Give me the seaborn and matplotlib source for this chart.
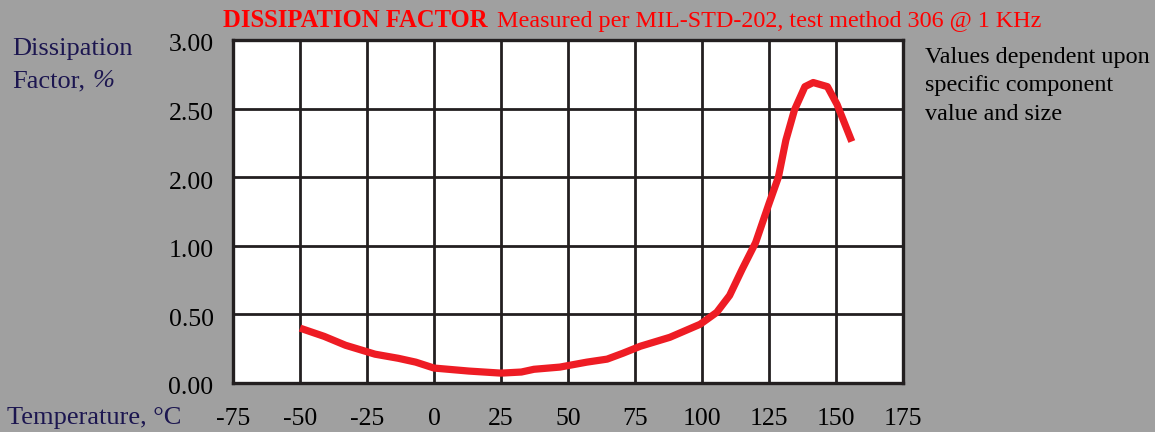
import numpy as np
import pandas as pd
import matplotlib
matplotlib.use("Agg")
import matplotlib.pyplot as plt
import matplotlib.transforms as mtransforms
import seaborn as sns

# ---- data ----
temperature_c = [-50, -41, -33, -22, -13.3, -6.8, 0, 13, 25, 32.6, 37.3, 47, 57,
                 64.6, 70.5, 77, 88, 99.3, 105.5, 110.3, 115, 120, 125, 128.5,
                 131.3, 134.5, 138.4, 141.5, 146.8, 150.4, 155.9]
dissipation_pct = [0.40, 0.34, 0.275, 0.21, 0.18, 0.152, 0.109, 0.087, 0.072, 0.08,
                   0.10, 0.116, 0.152, 0.174, 0.217, 0.268, 0.333, 0.428, 0.515,
                   0.638, 0.83, 1.046, 1.615, 2.0, 2.27, 2.49, 2.66, 2.69, 2.66,
                   2.53, 2.26]
x_ticks = [-75, -50, -25, 0, 25, 50, 75, 100, 125, 150, 175]
y_ticks = [0.0, 0.5, 1.0, 2.0, 2.5, 3.0]
y_tick_labels = ["0.00", "0.50", "1.00", "2.00", "2.50", "3.00"]

df = pd.DataFrame({"temp": temperature_c, "df": dissipation_pct})

W, H = 1155, 432
BG = "#a0a0a0"
NAVY = "#1c1650"
RED = "#ee1c24"
GRID = "#231f20"
FONT = "Liberation Serif"

plt.rcParams["font.family"] = [FONT, "DejaVu Serif"]

fig = plt.figure(figsize=(W / 100, H / 100), dpi=100, facecolor=BG)
ax = fig.add_axes([233 / W, (H - 383) / H, (903 - 233) / W, (383 - 40) / H])
ax.set_facecolor("white")

# evenly spaced rows for the irregular tick values
pos = np.arange(len(y_ticks), dtype=float)
vals = np.array(y_ticks)
ax.set_yscale("function",
              functions=(lambda v: np.interp(v, vals, pos),
                         lambda p: np.interp(p, pos, vals)))

sns.lineplot(data=df, x="temp", y="df", ax=ax, color=RED, linewidth=5.2,
             solid_capstyle="butt", solid_joinstyle="round", legend=False)

ax.set_xlim(-75, 175)
ax.set_ylim(0, 3)
ax.set_xticks(x_ticks)
ax.set_xticklabels([str(t) for t in x_ticks])
ax.set_yticks(y_ticks)
ax.set_yticklabels(y_tick_labels)
ax.grid(True, color=GRID, linewidth=2.0)
ax.set_axisbelow(True)
for s in ax.spines.values():
    s.set_color(GRID)
    s.set_linewidth(2.4)
ax.tick_params(axis="both", length=0, labelsize=18.5, colors="black")
ax.tick_params(axis="x", pad=18)
ax.tick_params(axis="y", pad=14)
ax.set_xlabel("")
ax.set_ylabel("")
shift = mtransforms.ScaledTranslation(0, -3 / 100, fig.dpi_scale_trans)
for lab in ax.get_yticklabels():
    lab.set_transform(lab.get_transform() + shift)

def px(x, y):
    return x / W, 1 - y / H

# title
fig.text(*px(223, 27), "DISSIPATION FACTOR", color="#ff0000", fontsize=17.7,
         fontweight="bold", ha="left", va="baseline")
fig.text(*px(497, 27), "Measured per MIL-STD-202, test method 306 @ 1 KHz",
         color="#ff0000", fontsize=17.4, ha="left", va="baseline")

# y-axis label
fig.text(*px(12, 55), "Dissipation", color=NAVY, fontsize=19, ha="left", va="baseline")
fig.text(*px(12, 87), "Factor,", color=NAVY, fontsize=19, ha="left", va="baseline")
fig.text(*px(93, 87), "%", color=NAVY, fontsize=19, style="italic", ha="left", va="baseline")

# x-axis label
fig.text(*px(7, 424), "Temperature, \u00b0C", color=NAVY, fontsize=19, ha="left", va="baseline")

# note
for i, line in enumerate(["Values dependent upon", "specific component", "value and size"]):
    fig.text(*px(925, 62.5 + 29 * i), line, color="black", fontsize=17.4,
             ha="left", va="baseline")

fig.savefig("out.png", dpi=100, facecolor=BG)
